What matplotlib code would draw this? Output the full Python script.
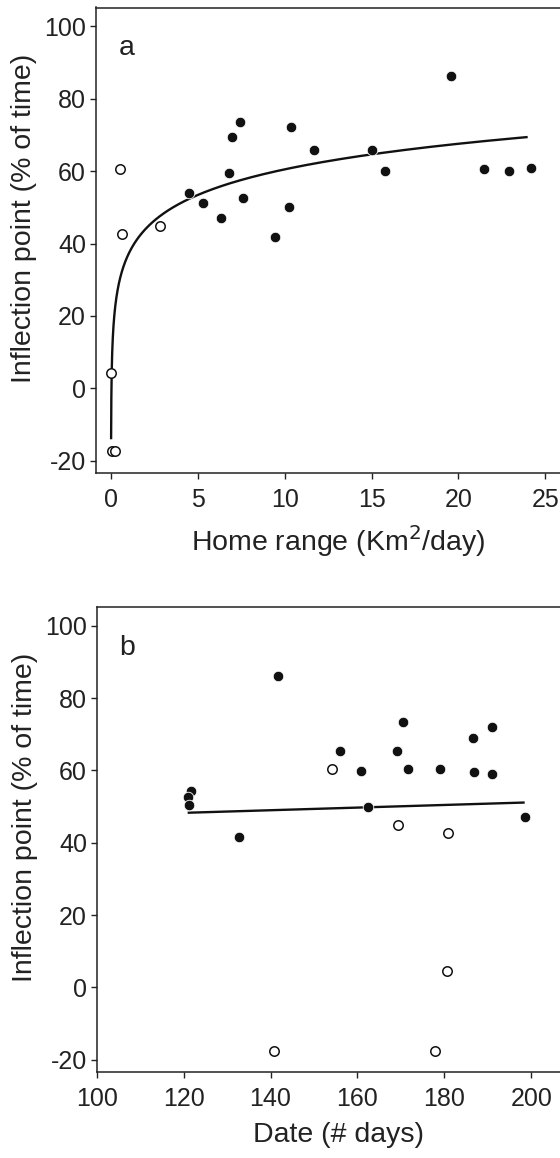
import numpy as np
import matplotlib
matplotlib.use("Agg")
import matplotlib.pyplot as plt

plt.rcParams['font.family'] = ['Liberation Sans', 'DejaVu Sans']

# ---- Panel a: home range vs inflection point ----
home_filled_x = [4.51, 5.31, 6.33, 6.81, 6.98, 7.42, 7.59, 9.44, 10.26, 10.36,
                 11.66, 15.04, 15.77, 19.56, 21.5, 22.94, 24.19]
home_filled_y = [53.9, 51.3, 47.1, 59.6, 69.3, 73.6, 52.6, 41.8, 50.1, 72.2,
                 65.7, 65.8, 59.9, 86.3, 60.6, 59.9, 60.8]
home_open_x = [0.52, 0.61, 2.82, 0.0, 0.08, 0.23]
home_open_y = [60.5, 42.7, 44.9, 4.3, -17.3, -17.3]
# logarithmic fit y = a + b*ln(x)
log_fit_a = 37.0
log_fit_b = 10.2
log_fit_xrange = [0.0069, 23.92]

# ---- Panel b: date vs inflection point ----
date_filled_x = [141.6, 155.9, 160.8, 169.0, 170.4, 171.7, 179.1, 186.6, 186.9,
                 190.9, 190.9, 121.7, 120.9, 121.2, 132.8, 162.5, 198.6]
date_filled_y = [86.2, 65.3, 59.8, 65.4, 73.4, 60.5, 60.4, 69.0, 59.7,
                 72.1, 59.1, 54.2, 52.6, 50.5, 41.5, 49.8, 47.0]
date_open_x = [154.1, 169.3, 180.8, 180.7, 140.9, 177.8]
date_open_y = [60.4, 44.9, 42.8, 4.6, -17.5, -17.5]
# linear fit y = c + d*x
lin_fit_c = 43.9
lin_fit_d = 0.0364
lin_fit_xrange = [121.2, 198.2]

yticks = [-20, 0, 20, 40, 60, 80, 100]
xticks_a = [0, 5, 10, 15, 20, 25]
xticks_b = [100, 120, 140, 160, 180, 200]

W, H = 560, 1158
fig = plt.figure(figsize=(W / 100, H / 100), dpi=100)

def px_axes(left, top, right, bottom):
    return fig.add_axes([left / W, 1 - bottom / H, (right - left) / W, (bottom - top) / H])

ax1 = px_axes(95.7, 7.5, 580, 473)
ax2 = px_axes(96.7, 607, 580, 1072)

tick_fs = 18
label_fs = 20.5

def style(ax, xlim, xticks, xlabel, letter):
    ax.set_ylim(-23.4, 105.2)
    ax.set_xlim(*xlim)
    ax.set_xticks(xticks)
    ax.set_yticks(yticks)
    ax.set_yticklabels([str(t) for t in yticks])
    for s in ['left', 'bottom', 'top', 'right']:
        ax.spines[s].set_linewidth(1.1)
        ax.spines[s].set_color('#222222')
    ax.tick_params(direction='out', length=4, width=1.0, labelsize=tick_fs,
                   colors='#222222', pad=3)
    ax.tick_params(axis='x', pad=7)
    ax.set_ylabel('Inflection point (% of time)', fontsize=label_fs, color='#222222')
    ax.yaxis.set_label_coords(-0.121, 0.548)
    ax.set_xlabel(xlabel, fontsize=label_fs, color='#222222', labelpad=8)
    ax.text(0.064, 0.912, letter, transform=ax.transAxes, fontsize=label_fs,
            color='#222222', ha='center', va='center')

# panel a
xs = np.linspace(np.log(log_fit_xrange[0]), np.log(log_fit_xrange[1]), 400)
ax1.plot(np.exp(xs), log_fit_a + log_fit_b * xs, color='#111111', lw=1.7, zorder=2)
ax1.plot(home_filled_x, home_filled_y, 'o', ms=7.6, mfc='#111111', mec='white', mew=0.6, zorder=3)
ax1.plot(home_open_x, home_open_y, 'o', ms=6.8, mfc='white', mec='#111111', mew=1.1, zorder=3)
style(ax1, (-0.88, 27.0), xticks_a, 'Home range (Km$^{2}$/day)', 'a')

# panel b
xl = np.array(lin_fit_xrange)
ax2.plot(xl, lin_fit_c + lin_fit_d * xl, color='#111111', lw=1.7, zorder=2)
ax2.plot(date_filled_x, date_filled_y, 'o', ms=7.6, mfc='#111111', mec='white', mew=0.6, zorder=3)
ax2.plot(date_open_x, date_open_y, 'o', ms=6.8, mfc='white', mec='#111111', mew=1.1, zorder=3)
style(ax2, (100, 211.2), xticks_b, 'Date (# days)', 'b')

fig.savefig('out.png', dpi=100)
